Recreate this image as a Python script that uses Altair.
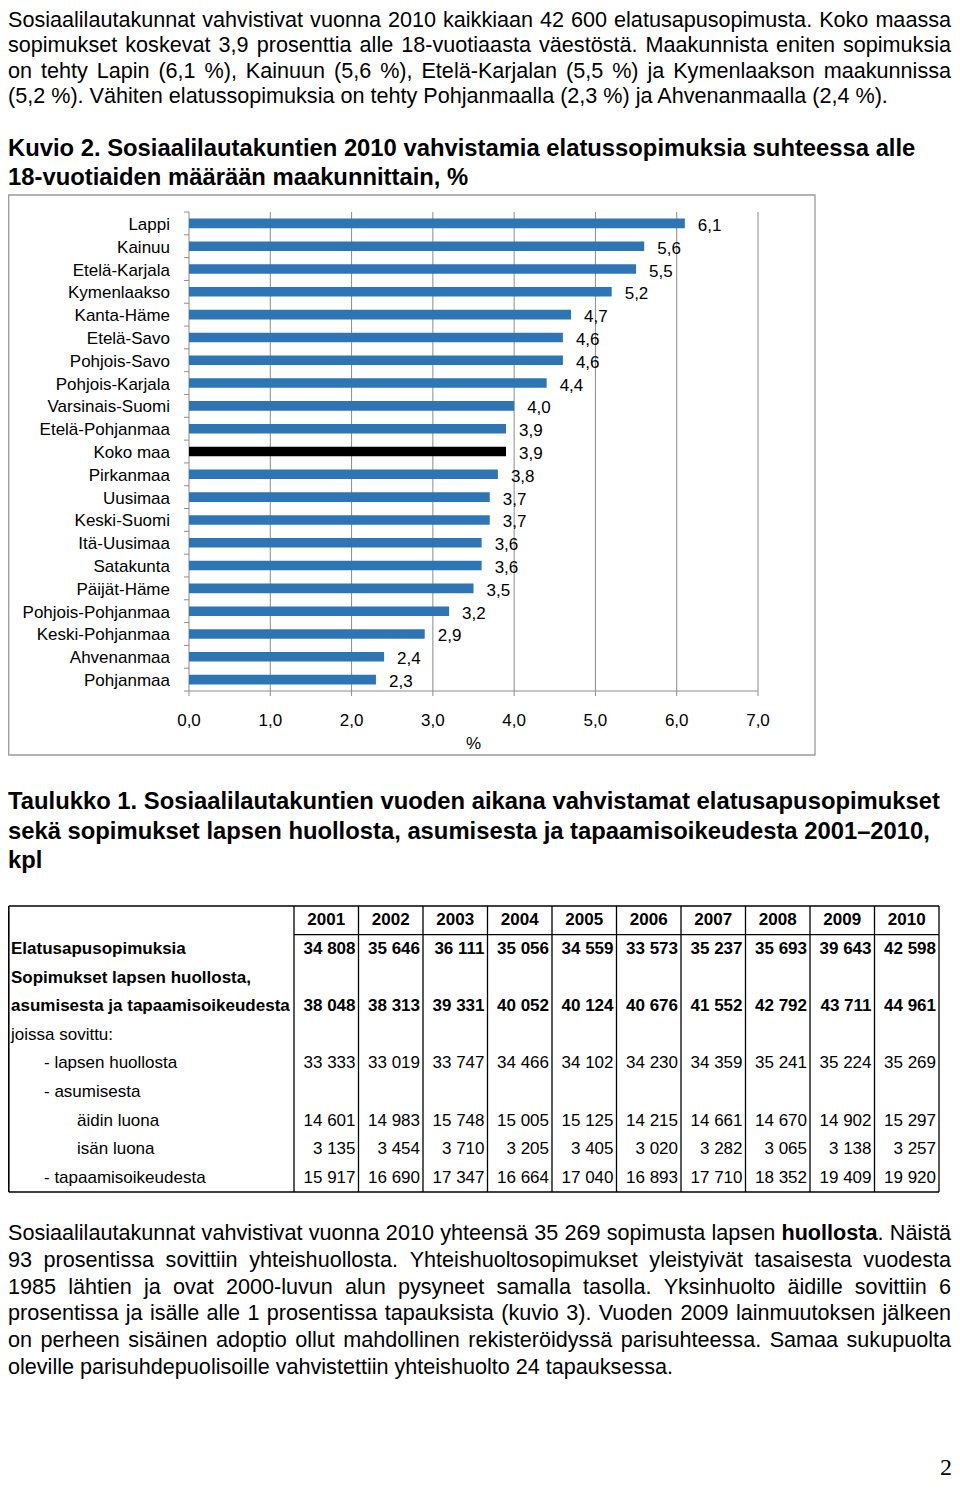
import altair as alt
import pandas as pd

# ---------------- data ----------------
regions = ["Lappi", "Kainuu", "Etelä-Karjala", "Kymenlaakso", "Kanta-Häme", "Etelä-Savo",
           "Pohjois-Savo", "Pohjois-Karjala", "Varsinais-Suomi", "Etelä-Pohjanmaa", "Koko maa",
           "Pirkanmaa", "Uusimaa", "Keski-Suomi", "Itä-Uusimaa", "Satakunta", "Päijät-Häme",
           "Pohjois-Pohjanmaa", "Keski-Pohjanmaa", "Ahvenanmaa", "Pohjanmaa"]
values = [6.1, 5.6, 5.5, 5.2, 4.7, 4.6, 4.6, 4.4, 4.0, 3.9, 3.9,
          3.8, 3.7, 3.7, 3.6, 3.6, 3.5, 3.2, 2.9, 2.4, 2.3]
x_ticks = [0, 1, 2, 3, 4, 5, 6, 7]
x_tick_labels = ["0,0", "1,0", "2,0", "3,0", "4,0", "5,0", "6,0", "7,0"]

years = [2001, 2002, 2003, 2004, 2005, 2006, 2007, 2008, 2009, 2010]
elatus = [34808, 35646, 36111, 35056, 34559, 33573, 35237, 35693, 39643, 42598]
sopimukset = [38048, 38313, 39331, 40052, 40124, 40676, 41552, 42792, 43711, 44961]
huolto = [33333, 33019, 33747, 34466, 34102, 34230, 34359, 35241, 35224, 35269]
aidin = [14601, 14983, 15748, 15005, 15125, 14215, 14661, 14670, 14902, 15297]
isan = [3135, 3454, 3710, 3205, 3405, 3020, 3282, 3065, 3138, 3257]
tapaamis = [15917, 16690, 17347, 16664, 17040, 16893, 17710, 18352, 19409, 19920]

row_labels = ["Elatusapusopimuksia", "Sopimukset lapsen huollosta,", "asumisesta ja tapaamisoikeudesta",
              "joissa sovittu:", "- lapsen huollosta", "- asumisesta", "äidin luona", "isän luona",
              "- tapaamisoikeudesta"]
row_levels = [0, 0, 0, 0, 1, 1, 2, 2, 1]
row_bold = [True, True, True, False, False, False, False, False, False]
row_values = [elatus, None, sopimukset, None, huolto, None, aidin, isan, tapaamis]

NB = "\u00a0"
para1 = [
    f"Sosiaalilautakunnat vahvistivat vuonna 2010 kaikkiaan 42{NB}600 elatusapusopimusta. Koko maassa",
    "sopimukset koskevat 3,9 prosenttia alle 18-vuotiaasta väestöstä. Maakunnista eniten sopimuksia",
    "on tehty Lapin (6,1 %), Kainuun (5,6 %), Etelä-Karjalan (5,5 %) ja Kymenlaakson maakunnissa",
    "(5,2 %). Vähiten elatussopimuksia on tehty Pohjanmaalla (2,3 %) ja Ahvenanmaalla (2,4 %).",
]
title_kuvio = [
    "Kuvio 2. Sosiaalilautakuntien 2010 vahvistamia elatussopimuksia suhteessa alle",
    "18-vuotiaiden määrään maakunnittain, %",
]
title_taulukko = [
    "Taulukko 1. Sosiaalilautakuntien vuoden aikana vahvistamat elatusapusopimukset",
    "sekä sopimukset lapsen huollosta, asumisesta ja tapaamisoikeudesta 2001–2010,",
    "kpl",
]
para2_first_prefix = f"Sosiaalilautakunnat vahvistivat vuonna 2010 yhteensä 35{NB}269 sopimusta lapsen"
para2_first_bold = "huollosta"
para2_first_suffix = [".", "Näistä"]
para2 = [
    "93 prosentissa sovittiin yhteishuollosta. Yhteishuoltosopimukset yleistyivät tasaisesta vuodesta",
    "1985 lähtien ja ovat 2000-luvun alun pysyneet samalla tasolla. Yksinhuolto äidille sovittiin 6",
    "prosentissa ja isälle alle 1 prosentissa tapauksista (kuvio 3).  Vuoden 2009 lainmuutoksen jälkeen",
    "on perheen sisäinen adoptio ollut mahdollinen rekisteröidyssä parisuhteessa. Samaa sukupuolta",
    "oleville parisuhdepuolisoille vahvistettiin yhteishuolto 24 tapauksessa.",
]

# ---------------- styles / layout ----------------
FONT = "Liberation Sans"
BLUE = "#2E75B6"
GRID = "#8C8C8C"
FRAME = "#9A9A9A"
W, H = 944, 1476

PX0, PX1 = 181, 750     # plot area x (chart px)
PY0, PY1 = 204, 683     # plot area y
TX0, TX1 = 286, 931     # table numeric columns
TY0, TY1 = 898, 1184    # table rows
P = 21.6                # body text size
RIGHT = 943             # justified right edge

# Liberation Sans (Arial-metric) advance widths, per 1000 em, for text justification
_REG = {" ": 278, NB: 278, "%": 889, "(": 333, ")": 333, ",": 278, "-": 333, ".": 278, ":": 278,
        "A": 667, "E": 667, "K": 667, "L": 556, "M": 833, "N": 722, "S": 667, "V": 667, "Y": 667,
        "a": 556, "b": 556, "c": 500, "d": 556, "e": 556, "f": 278, "g": 556, "h": 556, "i": 222,
        "j": 222, "k": 500, "l": 222, "m": 833, "n": 556, "o": 556, "p": 556, "r": 333, "s": 500,
        "t": 278, "u": 556, "v": 500, "w": 722, "y": 500, "z": 500, "ä": 556, "ö": 556}
_BOLD = {"h": 611, "u": 611, "o": 611, "l": 278, "s": 556, "t": 333, "a": 556}


def tw(s, bold=False, size=P):
    tab = _BOLD if bold else _REG
    return sum(tab.get(c, 556) for c in s) * size / 1000.0


def one():
    return pd.DataFrame({"a": [0]})


def fmt(v):
    return f"{v:,}".replace(",", " ")


def text_lines(lines, x, ys, size, bold=False, font=FONT, align="left"):
    df = pd.DataFrame({"t": lines, "y": ys})
    return alt.Chart(df).mark_text(
        align=align, baseline="middle", fontSize=size,
        fontWeight="bold" if bold else "normal", font=font, color="black"
    ).encode(x=alt.value(x), y=alt.Y("y:Q", scale=None, axis=None), text="t:N")


def justify(words, y):
    """words: list of words, each a list of (text, bold) segments -> rows with x positions."""
    widths = [sum(tw(t, b) for t, b in wd) for wd in words]
    gap = (RIGHT - sum(widths)) / (len(words) - 1)
    rows, x = [], 0.0
    for wd, w in zip(words, widths):
        sx = x
        for t, b in wd:
            rows.append({"t": t, "x": sx, "y": y, "b": b})
            sx += tw(t, b)
        x += w + gap
    return rows


def plain_words(line):
    return [[(w, False)] for w in line.split()]


def word_layers(rows):
    df = pd.DataFrame(rows)
    out = []
    for bold in (False, True):
        sub = df[df.b == bold]
        if len(sub) == 0:
            continue
        out.append(alt.Chart(sub).mark_text(
            align="left", baseline="middle", fontSize=P, font=FONT,
            fontWeight="bold" if bold else "normal", color="black").encode(
            x=alt.X("x:Q", scale=None, axis=None), y=alt.Y("y:Q", scale=None, axis=None), text="t:N"))
    return out


xs = alt.Scale(domain=[0, 7], range=[PX0, PX1], nice=False, zero=False)
ys = alt.Scale(domain=regions, range=[PY0, PY1], paddingInner=0.58, paddingOuter=0.29)
ks = alt.Scale(domain=[0, len(regions)], range=[PY0, PY1], nice=False, zero=False)

bar_df = pd.DataFrame({"region": regions, "value": values,
                       "label": [f"{v:.1f}".replace(".", ",") for v in values]})
tick_df = pd.DataFrame({"v": x_ticks, "lab": x_tick_labels})
band_df = pd.DataFrame({"k": list(range(len(regions) + 1))})

layers = []

# chart frame
layers.append(alt.Chart(one()).mark_rect(fillOpacity=0, stroke=FRAME, strokeWidth=1.3).encode(
    x=alt.value(0.7), x2=alt.value(807), y=alt.value(187), y2=alt.value(747)))

# vertical gridlines
layers.append(alt.Chart(tick_df).mark_rule(color=GRID, strokeWidth=1).encode(
    x=alt.X("v:Q", scale=xs, axis=None), y=alt.value(PY0), y2=alt.value(PY1)))
# x ticks
layers.append(alt.Chart(tick_df).mark_rule(color=GRID, strokeWidth=1).encode(
    x=alt.X("v:Q", scale=xs, axis=None), y=alt.value(PY1), y2=alt.value(PY1 + 5)))
# x axis line
layers.append(alt.Chart(one()).mark_rule(color=GRID, strokeWidth=1).encode(
    x=alt.value(PX0), x2=alt.value(PX1), y=alt.value(PY1)))
# y ticks at band boundaries
layers.append(alt.Chart(band_df).mark_rule(color=GRID, strokeWidth=1).encode(
    y=alt.Y("k:Q", scale=ks, axis=None), x=alt.value(PX0 - 5), x2=alt.value(PX0)))

# bars
layers.append(alt.Chart(bar_df).mark_bar().encode(
    y=alt.Y("region:N", scale=ys, axis=None),
    x=alt.X("value:Q", scale=xs, axis=None),
    color=alt.when(alt.datum.region == "Koko maa").then(alt.value("black")).otherwise(alt.value(BLUE)),
))
# category labels
layers.append(alt.Chart(bar_df).mark_text(
    align="right", baseline="middle", fontSize=17, font=FONT, color="black", dy=1.5).encode(
    y=alt.Y("region:N", scale=ys, axis=None), x=alt.value(162), text="region:N"))
# value labels
layers.append(alt.Chart(bar_df).mark_text(
    align="left", baseline="middle", fontSize=17, font=FONT, color="black", dx=13, dy=2.5).encode(
    y=alt.Y("region:N", scale=ys, axis=None), x=alt.X("value:Q", scale=xs, axis=None), text="label:N"))
# x tick labels
layers.append(alt.Chart(tick_df).mark_text(
    align="center", baseline="middle", fontSize=17, font=FONT, color="black").encode(
    x=alt.X("v:Q", scale=xs, axis=None), y=alt.value(713), text="lab:N"))
# axis title
layers.append(alt.Chart(one()).mark_text(
    align="center", baseline="middle", fontSize=17, font=FONT, color="black").encode(
    x=alt.value((PX0 + PX1) / 2), y=alt.value(736), text=alt.value("%")))

# ---------------- table ----------------
cs = alt.Scale(domain=[0, len(years)], range=[TX0, TX1], nice=False, zero=False)
rs = alt.Scale(domain=[0, len(row_labels) + 1], range=[TY0, TY1], nice=False, zero=False)
ls = alt.Scale(domain=[0, 2], range=[3, 69], nice=False, zero=False)

col_df = pd.DataFrame({"k": list(range(len(years) + 1))})
layers.append(alt.Chart(col_df).mark_rule(color="black", strokeWidth=1.3).encode(
    x=alt.X("k:Q", scale=cs, axis=None), y=alt.value(TY0), y2=alt.value(TY1)))
layers.append(alt.Chart(one()).mark_rule(color="black", strokeWidth=1.6).encode(
    x=alt.value(0.8), y=alt.value(TY0), y2=alt.value(TY1)))
hl_df = pd.DataFrame({"r": [0, len(row_labels) + 1]})
layers.append(alt.Chart(hl_df).mark_rule(color="black", strokeWidth=1.6).encode(
    y=alt.Y("r:Q", scale=rs, axis=None), x=alt.value(0.8), x2=alt.value(TX1)))
hh_df = pd.DataFrame({"r": [1], "c0": [0], "c1": [len(years)]})
layers.append(alt.Chart(hh_df).mark_rule(color="black", strokeWidth=1.3).encode(
    y=alt.Y("r:Q", scale=rs, axis=None), x=alt.X("c0:Q", scale=cs, axis=None), x2="c1:Q"))

head_df = pd.DataFrame({"c": [i + 0.5 for i in range(len(years))], "r": [0.5] * len(years),
                        "t": [str(y) for y in years]})
layers.append(alt.Chart(head_df).mark_text(
    align="center", baseline="middle", fontSize=17, font=FONT, fontWeight="bold", color="black").encode(
    x=alt.X("c:Q", scale=cs, axis=None), y=alt.Y("r:Q", scale=rs, axis=None), text="t:N"))

lab_df = pd.DataFrame({"t": row_labels, "lvl": row_levels, "b": row_bold,
                       "r": [i + 1.5 for i in range(len(row_labels))]})
num_rows = []
for i, vals in enumerate(row_values):
    if vals is None:
        continue
    for j, v in enumerate(vals):
        num_rows.append({"c": j + 1, "r": i + 1.5, "t": fmt(v), "b": row_bold[i]})
num_df = pd.DataFrame(num_rows)

for bold in (True, False):
    w = "bold" if bold else "normal"
    layers.append(alt.Chart(lab_df[lab_df.b == bold]).mark_text(
        align="left", baseline="middle", fontSize=17, font=FONT, fontWeight=w, color="black").encode(
        x=alt.X("lvl:Q", scale=ls, axis=None), y=alt.Y("r:Q", scale=rs, axis=None), text="t:N"))
    layers.append(alt.Chart(num_df[num_df.b == bold]).mark_text(
        align="right", baseline="middle", fontSize=17, font=FONT, fontWeight=w, color="black", dx=-3).encode(
        x=alt.X("c:Q", scale=cs, axis=None), y=alt.Y("r:Q", scale=rs, axis=None), text="t:N"))

# ---------------- running text ----------------
p1_y = [13, 38.3, 63.6, 89]
rows = []
for line, y in zip(para1[:3], p1_y[:3]):
    rows += justify(plain_words(line), y)
layers += word_layers(rows)
layers.append(text_lines([para1[3]], 0, [p1_y[3]], P))

layers.append(text_lines(title_kuvio, 0, [141, 170], 23.8, bold=True))
layers.append(text_lines(title_taulukko, 0, [794, 824, 853], 23.8, bold=True))

p2_y = [1226, 1253, 1279.5, 1306, 1333, 1360]
first_words = plain_words(para2_first_prefix) + [[(para2_first_bold, True), (para2_first_suffix[0], False)],
                                                  [(para2_first_suffix[1], False)]]
rows = justify(first_words, p2_y[0])
for line, y in zip(para2[:4], p2_y[1:5]):
    rows += justify(plain_words(line), y)
layers += word_layers(rows)
layers.append(text_lines([para2[4]], 0, [p2_y[5]], P))

layers.append(text_lines(["2"], W, [1460], 24, font="Liberation Serif", align="right"))

chart = alt.layer(*layers).resolve_scale(x="independent", y="independent").properties(
    width=W, height=H, autosize=alt.AutoSizeParams(type="none"), padding=0
).configure_view(strokeWidth=0)

chart.save("out.html", embed_options={"renderer": "svg", "actions": False})
